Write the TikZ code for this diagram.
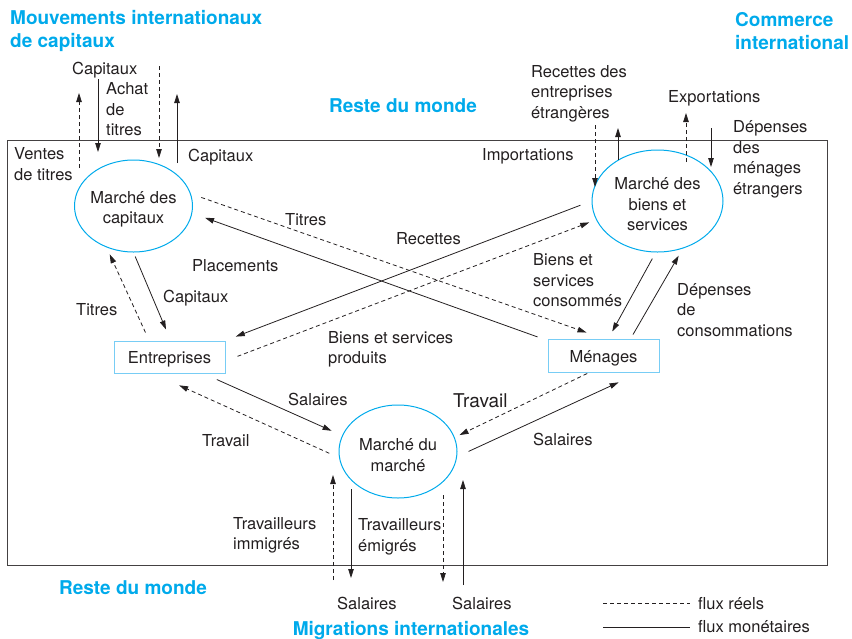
\documentclass[tikz,border=0pt]{standalone}
\usepackage{fontspec}
\setmainfont{TeX Gyre Heros}
\usetikzlibrary{shapes.geometric,arrows.meta}

\definecolor{cyanbleu}{RGB}{0,170,235}
\definecolor{cyanclair}{RGB}{120,205,245}
\definecolor{encre}{RGB}{35,31,32}

\newcommand{\lblfont}{\fontsize{16.5}{20.5}\selectfont}
\newcommand{\titrefont}{\fontsize{19}{23.5}\selectfont\bfseries}

\tikzset{
    flux/.style={draw=encre, line width=0.8pt, -{Triangle[length=9pt,width=5.5pt]}},
    monet/.style={flux},
    reel/.style={flux, dash pattern=on 4pt off 3pt},
    marche/.style={ellipse, draw=cyanbleu, line width=1pt, inner sep=0pt},
    mtext/.style={inner sep=0pt, align=center, text=encre, font=\lblfont, yshift=-3.5pt},
    agent/.style={rectangle, draw=cyanclair, line width=1pt, inner sep=0pt, text=encre, font=\lblfont,
        execute at begin node={\rule{0pt}{17pt}}},
    lbl/.style={anchor=west, inner sep=0pt, align=left, text=encre, font=\lblfont, yshift=-1.5pt},
    titre/.style={inner sep=0pt, align=left, text=cyanbleu, font=\titrefont, yshift=-1.5pt}
}

\begin{document}
\begin{tikzpicture}[x=1pt, y=-1pt]
        \useasboundingbox (0,0) rectangle (852,638);
        \draw[encre!85, line width=0.8pt] (7,140) rectangle (827,565);

        % titres
        \node[titre, anchor=west] (tcap) at (10,29.5) {Mouvements internationaux\\de capitaux};
        \node[titre, anchor=west] (tcom) at (735,29.5) {Commerce\\international};
        \node[titre] (trm1) at (403,104) {Reste du monde};
        \node[titre] (trm2) at (133,586) {Reste du monde};
        \node[titre] (tmig) at (411,629) {Migrations internationales};

        % marches et agents
        \node[marche, minimum width=118pt, minimum height=92pt,
            label={[mtext]center:Marché des\\capitaux}] (cap) at (133.5,206) {};
        \node[marche, minimum width=131pt, minimum height=102pt,
            label={[mtext]center:Marché des\\biens et\\services}] (bs) at (657.5,201) {};
        \node[marche, minimum width=118pt, minimum height=93pt,
            label={[mtext]center:Marché du\\marché}] (mm) at (398,451.5) {};
        \node[agent, minimum width=111pt, minimum height=32pt] (ent) at (169.5,357) {Entreprises};
        \node[agent, minimum width=111pt, minimum height=33pt] (men) at (603.5,355.5) {Ménages};

        % flux entre les marches et les agents
        \draw[reel, shorten <=11pt, shorten >=18pt] (cap.12.5) -- (men.north);
        \draw[monet, shorten <=10.6pt, shorten >=13.6pt] (men.165) -- (cap.-7.3);
        \draw[monet, shorten <=11.8pt, shorten >=11pt] (bs.180.7) -- (ent.north east);
        \draw[reel, shorten <=12.8pt, shorten >=7.3pt] (ent.-4.6) -- (bs.197.7);
        \draw[monet, shorten <=4.3pt, shorten >=11.9pt] (cap.-90) -- (ent.86);
        \draw[reel, shorten <=8.8pt, shorten >=7.5pt] (ent.141) -- (cap.237.1);
        \draw[monet, shorten <=7pt, shorten >=8pt] (bs.268.7) -- (men.74.4);
        \draw[monet, shorten <=4.6pt, shorten >=8.2pt] (men.32.2) -- (bs.298.6);
        \draw[monet, shorten <=14.8pt, shorten >=11.5pt] (ent.-26.6) -- (mm.164.1);
        \draw[reel, shorten <=10.7pt, shorten >=28.7pt] (mm.186.8) -- (ent.225.7);
        \draw[reel, shorten <=2.3pt, shorten >=5.3pt] (men.230.9) -- (mm.14.2);
        \draw[monet, shorten <=12.6pt, shorten >=23.5pt] (mm.-5.7) -- (men.-25.4);

        % flux avec le reste du monde
        \foreach \n/\x/\ya/\yb/\s in {1/79/168/93/reel, 2/98/79/152/monet, 3/159/66/158/reel, 4/177/163/94/monet,
            5/595/125/187/reel, 6/618/160/128/monet, 7/686/162/113/reel, 8/711/128/167/monet,
            9/333/580/475/reel, 10/351/489/578/monet, 11/443/495/582/reel, 12/463/585/480/monet}
        {
            \coordinate (va\n) at (\x,\ya);
            \coordinate (vb\n) at (\x,\yb);
            \draw[\s] (va\n) -- (vb\n);
        }

        % etiquettes
        \node[lbl] (l1) at (72,69) {Capitaux};
        \node[lbl] (l2) at (106,108) {Achat\\de\\titres};
        \node[lbl] (l3) at (14,162.5) {Ventes\\de titres};
        \node[lbl] (l4) at (188,156) {Capitaux};
        \node[lbl] (l5) at (531,92) {Recettes des\\entreprises\\étrangères};
        \node[lbl] (l6) at (668,97) {Exportations};
        \node[lbl] (l7) at (482,155) {Importations};
        \node[lbl] (l8) at (733,158) {Dépenses\\des\\ménages\\étrangers};
        \node[lbl] (l9) at (285,218) {Titres};
        \node[lbl] (l10) at (396,237) {Recettes};
        \node[lbl] (l11) at (192,264) {Placements};
        \node[lbl] (l12) at (163,297) {Capitaux};
        \node[lbl] (l13) at (76,308) {Titres};
        \node[lbl] (l14) at (328,348) {Biens et services\\produits};
        \node[lbl] (l15) at (533,279) {Biens et\\services\\consommés};
        \node[lbl] (l16) at (677,308.5) {Dépenses\\de\\consommations};
        \node[lbl] (l17) at (288,398) {Salaires};
        \node[lbl] (l18) at (202,439) {Travail};
        \node[lbl, font=\fontsize{19}{23}\selectfont] (l19) at (453,399) {Travail};
        \node[lbl] (l20) at (533,438) {Salaires};
        \node[lbl] (l21) at (233,534) {Travailleurs\\immigrés};
        \node[lbl] (l22) at (358,535.5) {Travailleurs\\émigrés};
        \node[lbl] (l23) at (337,602) {Salaires};
        \node[lbl] (l24) at (452,602) {Salaires};

        % legende
        \coordinate (lga) at (603,603);
        \coordinate (lgb) at (690,603);
        \coordinate (lgc) at (603,627);
        \coordinate (lgd) at (690,627);
        \draw[reel, -] (lga) -- (lgb);
        \draw[monet, -] (lgc) -- (lgd);
        \node[lbl] (lg1) at (698,602) {flux réels};
        \node[lbl] (lg2) at (698,625) {flux monétaires};
    \end{tikzpicture}
\end{document}
